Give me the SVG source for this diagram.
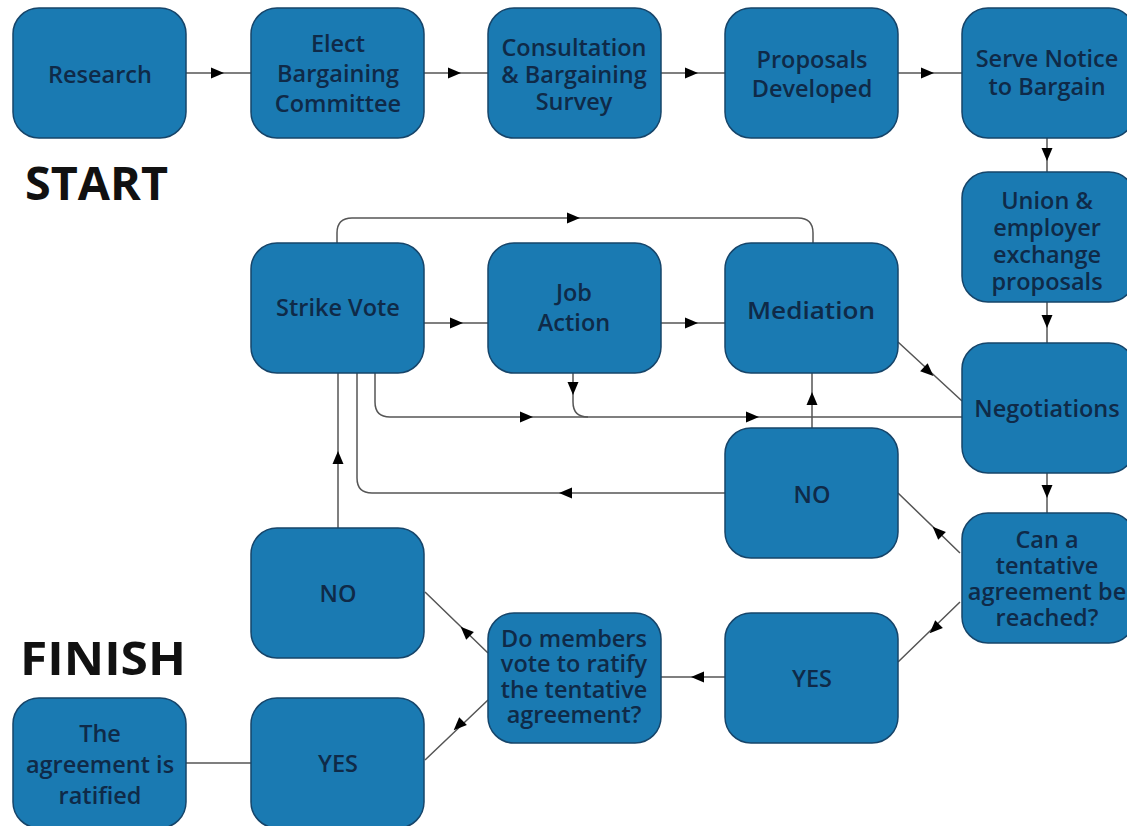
<svg xmlns="http://www.w3.org/2000/svg" xmlns:xlink="http://www.w3.org/1999/xlink" width="1127" height="826" viewBox="0 0 1127 826">
<style>
.box{fill:#1a7ab2;stroke:#16456a;stroke-width:1.5}
.t{font-family:"Open Sans","Noto Sans","Liberation Sans",sans-serif;font-weight:600;fill:#0f2a48;text-anchor:middle;dominant-baseline:central;font-size:23.5px}
.big{font-family:"Open Sans","Noto Sans","Liberation Sans",sans-serif;font-weight:bold;fill:#111;font-size:47px}
.c{fill:none;stroke:#555;stroke-width:1.5}
.ah{fill:#000}
</style>
<defs>
<polygon id="ah" points="-7,-5.5 6,0 -7,5.5"/>
</defs>
<rect width="1127" height="826" fill="#ffffff"/>
<text class="big" x="25" y="200" textLength="143" lengthAdjust="spacingAndGlyphs">START</text>
<text class="big" x="20" y="675" textLength="166" lengthAdjust="spacingAndGlyphs">FINISH</text>

<g id="connectors">
<path class="c" d="M186,73 H251 M424,73 H488 M661,73 H725 M898,73 H962"/>
<path class="c" d="M1047,138 V172 M1047,302 V343 M1047,473 V513"/>
<path class="c" d="M960,553 L898,493 M960,602 L898,662 M725,677 H661"/>
<path class="c" d="M488,653 L425,592 M488,700 L425,760 M186,763 H251"/>
<path class="c" d="M338,528 V373 M424,323 H488 M661,323 H725 M898,342 L962,401 M812,428 V373"/>
<path class="c" d="M337,243 V233 Q337,218 352,218 H798 Q813,218 813,233 V243"/>
<path class="c" d="M375,373 V402 Q375,417 390,417 H962"/>
<path class="c" d="M573,373 V402 Q573,417 588,417"/>
<path class="c" d="M725,493 H372 Q357,493 357,478 V373"/>
<g class="ah">
<use xlink:href="#ah" transform="translate(218,73)"/>
<use xlink:href="#ah" transform="translate(455,73)"/>
<use xlink:href="#ah" transform="translate(692,73)"/>
<use xlink:href="#ah" transform="translate(928,73)"/>
<use xlink:href="#ah" transform="translate(1047,155) rotate(90)"/>
<use xlink:href="#ah" transform="translate(1047,322) rotate(90)"/>
<use xlink:href="#ah" transform="translate(1047,492) rotate(90)"/>
<use xlink:href="#ah" transform="translate(937,531) rotate(224)"/>
<use xlink:href="#ah" transform="translate(934,629) rotate(136)"/>
<use xlink:href="#ah" transform="translate(697,677) rotate(180)"/>
<use xlink:href="#ah" transform="translate(465,631) rotate(224)"/>
<use xlink:href="#ah" transform="translate(458,726) rotate(136)"/>
<use xlink:href="#ah" transform="translate(338,457) rotate(-90)"/>
<use xlink:href="#ah" transform="translate(457,323)"/>
<use xlink:href="#ah" transform="translate(692,323)"/>
<use xlink:href="#ah" transform="translate(929,372) rotate(43)"/>
<use xlink:href="#ah" transform="translate(812,398) rotate(-90)"/>
<use xlink:href="#ah" transform="translate(527,417)"/>
<use xlink:href="#ah" transform="translate(753,417)"/>
<use xlink:href="#ah" transform="translate(573,389) rotate(90)"/>
<use xlink:href="#ah" transform="translate(574,218)"/>
<use xlink:href="#ah" transform="translate(565,493) rotate(180)"/>
</g>
</g>

<g id="research"><rect class="box" x="13" y="8" width="173" height="130" rx="26"/><text class="t" x="100" y="74">Research</text></g>
<g id="elect"><rect class="box" x="251" y="8" width="173" height="130" rx="26"/><text class="t" x="338" y="43">Elect</text><text class="t" x="338" y="73">Bargaining</text><text class="t" x="338" y="103">Committee</text></g>
<g id="consultation"><rect class="box" x="488" y="8" width="173" height="130" rx="26"/><text class="t" x="574" y="47">Consultation</text><text class="t" x="574" y="74">&amp; Bargaining</text><text class="t" x="574" y="101">Survey</text></g>
<g id="proposals"><rect class="box" x="725" y="8" width="173" height="130" rx="26"/><text class="t" x="812" y="59">Proposals</text><text class="t" x="812" y="88">Developed</text></g>
<g id="serve"><rect class="box" x="962" y="8" width="173" height="130" rx="26"/><text class="t" x="1047" y="58">Serve Notice</text><text class="t" x="1047" y="86">to Bargain</text></g>
<g id="union"><rect class="box" x="962" y="172" width="173" height="130" rx="26"/><text class="t" x="1047" y="200" font-size="23">Union &amp;</text><text class="t" x="1047" y="227" font-size="23">employer</text><text class="t" x="1047" y="254" font-size="23">exchange</text><text class="t" x="1047" y="281" font-size="23">proposals</text></g>
<g id="strike"><rect class="box" x="251" y="243" width="173" height="130" rx="26"/><text class="t" x="338" y="307">Strike Vote</text></g>
<g id="job"><rect class="box" x="488" y="243" width="173" height="130" rx="26"/><text class="t" x="574" y="292">Job</text><text class="t" x="574" y="322">Action</text></g>
<g id="mediation"><rect class="box" x="725" y="243" width="173" height="130" rx="26"/><text class="t" x="811" y="310" font-size="30" textLength="128" lengthAdjust="spacingAndGlyphs">Mediation</text></g>
<g id="negotiations"><rect class="box" x="962" y="343" width="173" height="130" rx="26"/><text class="t" x="1047" y="408" font-size="24">Negotiations</text></g>
<g id="no-mid"><rect class="box" x="725" y="428" width="173" height="130" rx="26"/><text class="t" x="812" y="494">NO</text></g>
<g id="can"><rect class="box" x="962" y="513" width="173" height="130" rx="26"/><text class="t" x="1047" y="539">Can a</text><text class="t" x="1047" y="565">tentative</text><text class="t" x="1047" y="591">agreement be</text><text class="t" x="1047" y="617">reached?</text></g>
<g id="yes-mid"><rect class="box" x="725" y="613" width="173" height="130" rx="26"/><text class="t" x="812" y="678">YES</text></g>
<g id="members"><rect class="box" x="488" y="613" width="173" height="130" rx="26"/><text class="t" x="574" y="638">Do members</text><text class="t" x="574" y="663">vote to ratify</text><text class="t" x="574" y="689">the tentative</text><text class="t" x="574" y="714">agreement?</text></g>
<g id="no-left"><rect class="box" x="251" y="528" width="173" height="130" rx="26"/><text class="t" x="338" y="593">NO</text></g>
<g id="yes-left"><rect class="box" x="251" y="698" width="173" height="130" rx="26"/><text class="t" x="338" y="763">YES</text></g>
<g id="ratified"><rect class="box" x="13" y="698" width="173" height="130" rx="26"/><text class="t" x="100" y="733">The</text><text class="t" x="100" y="764">agreement is</text><text class="t" x="100" y="795">ratified</text></g>
</svg>
